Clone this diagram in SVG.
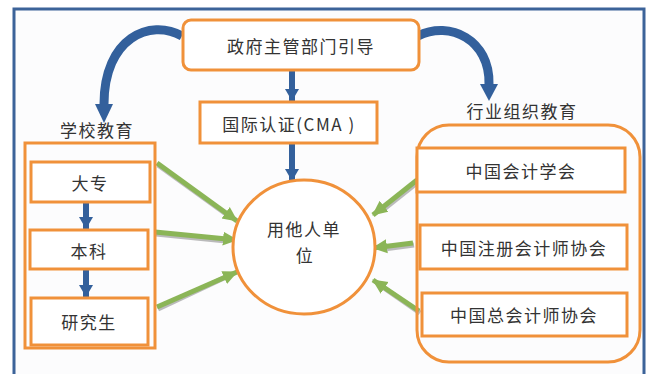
<svg xmlns="http://www.w3.org/2000/svg" width="650" height="374" viewBox="0 0 650 374">
<style>
.box{fill:#ffffff;stroke:#F0913A;stroke-width:3}
.grp{fill:none;stroke:#F0913A;stroke-width:3}
.t{font-family:"Noto Sans CJK SC","Noto Sans",sans-serif;font-size:17px;fill:#333333;text-anchor:middle;dominant-baseline:central;letter-spacing:1.5px}
.g{stroke:#8BB557;stroke-width:5;fill:none;marker-end:url(#ga)}
.gs{stroke:#6b6b6b;stroke-width:5;fill:none;opacity:0.45}
.b{stroke:#33609C;stroke-width:6;fill:none;marker-end:url(#ba)}
.cv{stroke:#33609C;fill:none;stroke-linecap:butt}
</style>
<defs>
<marker id="ga" markerUnits="userSpaceOnUse" markerWidth="16" markerHeight="16" viewBox="0 0 16 16" refX="14" refY="8" orient="auto">
<path d="M0,1 L15,8 L0,15 Z" fill="#8BB557"/>
</marker>
<marker id="ba" markerUnits="userSpaceOnUse" markerWidth="14" markerHeight="14" viewBox="0 0 14 14" refX="12" refY="7" orient="auto">
<path d="M0,0 L12,7 L0,14 Z" fill="#33609C"/>
</marker>
</defs>
<rect x="0" y="0" width="650" height="374" fill="#ffffff"/>
<rect x="14" y="9" width="630" height="380" fill="#FCFCFD" stroke="#3C6399" stroke-width="3"/>

<g id="connectors">
<!-- curved arrows -->
<path class="cv" d="M182,36 C150,18 104,38 104,104" stroke-width="9"/>
<path d="M95,104 L113,104 L104,123 Z" fill="#33609C"/>
<path class="cv" d="M418,36 C450,20 490,40 489,84" stroke-width="9"/>
<path d="M480,84 L498,84 L489,101 Z" fill="#33609C"/>
<!-- vertical blue arrows -->
<line class="b" x1="292" y1="70" x2="292" y2="101"/>
<line class="b" x1="292" y1="144" x2="292" y2="181"/>
<line class="b" x1="86" y1="202" x2="86" y2="229"/>
<line class="b" x1="86" y1="270" x2="86" y2="297"/>
<!-- green shadows -->
<line class="gs" x1="158" y1="165" x2="226" y2="214"/>
<line class="gs" x1="156" y1="234" x2="226" y2="241"/>
<line class="gs" x1="158" y1="309" x2="226" y2="277"/>
<line class="gs" x1="418" y1="182" x2="384" y2="209"/>
<line class="gs" x1="414" y1="245" x2="384" y2="249"/>
<line class="gs" x1="420" y1="313" x2="384" y2="288"/>
<!-- green arrows -->
<line class="g" x1="157" y1="163" x2="237" y2="221"/>
<line class="g" x1="155" y1="232" x2="237" y2="240"/>
<line class="g" x1="157" y1="307" x2="237" y2="272"/>
<line class="g" x1="417" y1="180" x2="373" y2="215"/>
<line class="g" x1="413" y1="243" x2="373" y2="248"/>
<line class="g" x1="419" y1="311" x2="373" y2="280"/>
</g>

<g id="gov">
<rect class="box" x="183" y="20" width="236" height="50" rx="8"/>
<text class="t" x="301" y="45">政府主管部门引导</text>
</g>
<g id="cma">
<rect class="box" x="200" y="102" width="177" height="41"/>
<text class="t" x="289" y="123">国际认证(CMA )</text>
</g>
<g id="employer">
<ellipse cx="304" cy="247" rx="71" ry="67" fill="#ffffff" stroke="#F0913A" stroke-width="3"/>
<text class="t" x="304" y="228">用他人单</text>
<text class="t" x="305" y="254">位</text>
</g>

<g id="school">
<text class="t" x="97" y="129">学校教育</text>
<rect class="grp" x="25" y="143" width="130" height="205"/>
</g>
<g id="dazhuan">
<rect class="box" x="31" y="162" width="119" height="40"/>
<text class="t" x="90" y="182">大专</text>
</g>
<g id="benke">
<rect class="box" x="30" y="230" width="118" height="39"/>
<text class="t" x="89" y="250">本科</text>
</g>
<g id="yanjiusheng">
<rect class="box" x="31" y="298" width="117" height="47"/>
<text class="t" x="89" y="321">研究生</text>
</g>

<g id="industry">
<text class="t" x="522" y="110">行业组织教育</text>
<rect class="grp" x="417" y="125" width="223" height="237" rx="32"/>
</g>
<g id="cas">
<rect class="box" x="417" y="148" width="208" height="44"/>
<text class="t" x="521" y="170">中国会计学会</text>
</g>
<g id="cicpa">
<rect class="box" x="420" y="225" width="207" height="44"/>
<text class="t" x="524" y="247">中国注册会计师协会</text>
</g>
<g id="cafm">
<rect class="box" x="422" y="293" width="205" height="43"/>
<text class="t" x="524" y="314">中国总会计师协会</text>
</g>
</svg>
